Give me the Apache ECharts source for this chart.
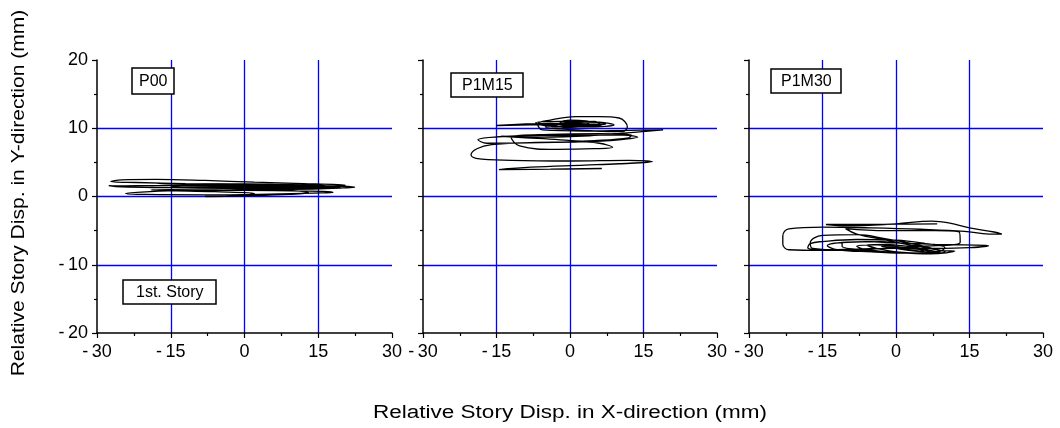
<!DOCTYPE html>
<html>
<head>
<meta charset="utf-8">
<script src="https://cdn.jsdelivr.net/npm/echarts@6/dist/echarts.min.js"></script>
<style>
  html, body { margin: 0; padding: 0; background: #fff; }
  #chart { width: 1060px; height: 428px; }
</style>
</head>
<body>
<div id="chart"></div>
<script>
// Axis ranges and tick spacing (mm)
const xRange = [-30, 30];
const yRange = [-20, 20];
const xStep = 15;
const yStep = 10;

// Panel captions
const panelNames = ['P00', 'P1M15', 'P1M30'];
const storyLabel = '1st. Story';
const xTitle = 'Relative Story Disp. in X-direction (mm)';
const yTitle = 'Relative Story Disp. in Y-direction (mm)';

// Orbit of relative story displacement [x, y] in mm, case P00
const orbitP00 = [
  [-3, 0.9], [5, 1.0], [14, 1.1], [20, 1.25], [22.4, 1.35], [20, 1.5], [12, 1.6], [0, 1.75],
  [-12, 1.9], [-22, 2.05], [-27.2, 2.2], [-25, 2.45], [-18, 2.5], [-8, 2.35], [2, 2.1], [12, 1.9],
  [19, 1.75], [20.5, 1.65], [17, 1.55], [6, 1.5], [-6, 1.55], [-18, 1.6], [-26, 1.55], [-27.6, 1.6],
  [-25, 1.4], [-15, 1.3], [-4, 1.2], [8, 1.15], [17, 1.2], [19.5, 1.3], [16, 1.45], [5, 1.55],
  [-8, 1.7], [-16, 1.85], [-18, 1.95], [-14, 1.9], [-3, 1.8], [8, 1.6], [16, 1.45], [17.5, 1.3],
  [12, 1.15], [0, 1.0], [-14, 0.85], [-21, 0.65], [-24.2, 0.45], [-20, 0.3], [-8, 0.25], [5, 0.35],
  [14, 0.5], [18, 0.6], [16, 0.75], [6, 0.85], [-6, 0.95], [-15, 1.0], [-19, 0.95], [-16, 0.85],
  [-6, 0.7], [2, 0.45], [-3, 0.05], [-8, 0.0], [0, 0.1], [9, 0.3], [13, 0.55], [11, 0.8],
  [2, 1.05], [-8, 1.3], [-15, 1.5], [-13, 1.65], [-4, 1.7], [6, 1.65], [14, 1.55], [18, 1.45],
  [16, 1.35], [7, 1.3], [-3, 1.35], [-11, 1.5], [-12, 1.7], [-5, 1.85], [5, 1.8], [13, 1.7], [17, 1.55],
  [14, 1.4], [4, 1.4], [-6, 1.5], [-10, 1.65], [-2, 1.6], [9, 1.45], [15, 1.35]
];

// Orbit of relative story displacement [x, y] in mm, case P1M15
const orbitP1M15 = [
  [6.5, 4.1], [-4, 4.0], [-14.5, 3.95], [-8, 4.3], [3, 4.6], [10, 4.8], [16.8, 5.1], [12, 5.3],
  [0, 5.2], [-12, 5.3], [-19.2, 5.6], [-20.2, 6.1], [-19, 7.0], [-16, 7.6], [-8, 7.9], [2, 8.0],
  [10, 8.3], [13.8, 8.7], [11, 9.0], [0, 9.0], [-10, 8.9], [-18.8, 8.3], [-17, 7.8], [-6, 7.9],
  [5, 8.2], [12, 8.6], [12.5, 9.0], [6, 9.2], [-4, 9.1], [-12, 8.6], [-10.3, 7.4], [-3, 6.9],
  [5, 7.0], [8.7, 7.2], [6, 7.8], [-2, 8.3], [-9, 8.6], [-14, 8.8], [-6, 8.7], [4, 8.9],
  [11, 9.3], [19, 9.75], [12, 9.7], [3, 9.6], [-5.6, 9.75], [-6.6, 10.6], [-4, 11.2], [1.2, 11.7],
  [6, 11.7], [10, 11.5], [11.7, 10.2], [10.7, 9.5], [5, 9.6], [-2, 9.9], [-5, 10.2], [-2, 10.6],
  [3, 10.9], [7, 10.7], [5, 10.3], [0, 10.4], [-4, 10.7], [-15, 10.4], [-8, 10.5], [0, 10.6],
  [7.3, 10.6], [3, 10.3], [-1, 10.1], [-3, 10.5], [1, 10.9], [5, 11.0], [6, 10.7], [2, 10.5],
  [-2, 10.8], [0, 11.2], [4, 10.9], [2, 10.4], [-4, 10.3], [-7, 10.8], [-2, 11.0], [6, 10.9],
  [9, 10.5], [4, 10.2], [-3, 10.2], [-5, 10.6], [0, 10.7], [5, 10.6]
];

// Orbit of relative story displacement [x, y] in mm, case P1M30
const orbitP1M30 = [
  [8.4, -4.0], [0, -4.05], [-8, -4.1], [-14.3, -4.1], [-10, -4.3], [0, -4.0], [7.3, -3.6], [11, -3.9],
  [15, -4.6], [20, -5.2], [21.6, -5.5], [19, -5.5], [14, -5.1], [5, -4.8], [-5, -4.6], [-15, -4.5],
  [-21.9, -4.75], [-23.1, -5.8], [-23.1, -6.96], [-21.9, -7.8], [-15, -7.9], [-5, -7.7], [5, -7.3],
  [13.1, -6.7], [12.9, -5.2], [8, -5.0], [-2, -5.0], [-10.3, -4.7], [-8, -5.5], [-2, -6.4], [3, -7.2],
  [6, -8.2], [2, -8.3], [-6, -7.9], [-11, -7.3], [-11, -6.8], [-6, -6.6], [0, -6.8], [8, -7.0],
  [14, -7.1], [18.9, -7.2], [15, -7.5], [8, -7.6], [0, -7.6], [-8, -7.7], [-15, -7.8], [-18, -7.5],
  [-17.5, -6.9], [-15, -6.6], [-8, -6.3], [0, -6.4], [6, -6.9], [10, -7.5], [9, -8.0], [4, -8.3],
  [-2, -8.2], [-10, -7.9], [-17, -7.6], [-17.5, -6.8], [-15, -5.7], [-8, -5.6], [-2, -6.2], [4, -7.0],
  [8, -7.7], [10, -8.1], [6, -8.3], [0, -8.1], [-4, -7.6], [-6, -7.1], [-2, -7.0], [3, -7.4],
  [7, -7.9], [9, -8.2], [4, -8.0], [-1, -7.5], [-3, -7.3], [1, -7.6], [6, -8.1], [8, -8.2],
  [3, -8.3], [-5, -8.1], [-12, -7.8], [-14, -7.2], [-10, -6.7], [-3, -6.6], [4, -7.2], [9, -7.9],
  [12, -8.0], [7, -8.4], [0, -8.2], [-6, -7.8], [-8, -7.3], [-4, -7.1], [2, -7.5], [7, -8.0]
];

const orbits = [orbitP00, orbitP1M15, orbitP1M30];

const FONT = "'Liberation Sans', Arial, sans-serif";
const gridLeft = [97, 423, 749];
const gridWidth = [295, 294, 294];
const gridTop = 60;
const gridHeight = 273;

function tickText(v) {
  return v < 0 ? '-\u2009' + Math.abs(v) : String(v);
}

const gridLine = {
  show: true,
  showMinLine: false,
  showMaxLine: false,
  lineStyle: { color: '#0000ff', width: 1.3 }
};

const grids = [], xAxes = [], yAxes = [], series = [];
orbits.forEach((orbit, i) => {
  grids.push({ left: gridLeft[i], top: gridTop, width: gridWidth[i], height: gridHeight });
  xAxes.push({
    type: 'value', gridIndex: i, min: xRange[0], max: xRange[1], interval: xStep,
    axisLine: { show: true, onZero: false, lineStyle: { color: '#000', width: 1.5 } },
    axisTick: { show: true, length: 5, lineStyle: { color: '#000', width: 1.2 } },
    minorTick: { show: true, splitNumber: 2, length: 3, lineStyle: { color: '#000', width: 1.2 } },
    axisLabel: {
      show: true, showMinLabel: true, showMaxLabel: true, margin: 10,
      color: '#000', fontSize: 18, fontFamily: FONT, formatter: tickText
    },
    splitLine: gridLine
  });
  yAxes.push({
    type: 'value', gridIndex: i, min: yRange[0], max: yRange[1], interval: yStep,
    axisLine: { show: true, onZero: false, lineStyle: { color: '#000', width: 1.5 } },
    axisTick: { show: true, length: 5, lineStyle: { color: '#000', width: 1.2 } },
    minorTick: { show: true, splitNumber: 2, length: 3, lineStyle: { color: '#000', width: 1.2 } },
    axisLabel: {
      show: i === 0, showMinLabel: true, showMaxLabel: true, margin: 9,
      color: '#000', fontSize: 18, fontFamily: FONT, formatter: tickText
    },
    splitLine: gridLine
  });
  series.push({
    type: 'line', xAxisIndex: i, yAxisIndex: i, data: orbit,
    showSymbol: false, smooth: 0.4, animation: false, silent: true,
    lineStyle: { color: '#000', width: 1.3 }
  });
});

// Boxed captions inside each panel
const boxStyle = {
  borderColor: '#000', borderWidth: 1.5, backgroundColor: '#fff'
};
const captionFont = { color: '#000', fontSize: 16, fontWeight: 'normal', fontFamily: FONT, lineHeight: 17 };
const titles = [
  Object.assign({ text: panelNames[0], left: 132, top: 68, padding: [5, 7, 4, 7], textStyle: captionFont }, boxStyle),
  Object.assign({ text: storyLabel, left: 123, top: 280, padding: [4, 13, 3, 13], textStyle: captionFont }, boxStyle),
  Object.assign({ text: panelNames[1], left: 451, top: 73, padding: [4, 11, 3, 11], textStyle: captionFont }, boxStyle),
  Object.assign({ text: panelNames[2], left: 771, top: 69, padding: [4, 10, 3, 10], textStyle: captionFont }, boxStyle)
];

const chart = echarts.init(document.getElementById('chart'), null, { renderer: 'canvas' });
chart.setOption({
  animation: false,
  backgroundColor: '#fff',
  title: titles,
  grid: grids,
  xAxis: xAxes,
  yAxis: yAxes,
  series: series,
  graphic: [
    {
      type: 'text', x: 570, y: 413, scaleX: 1.25,
      style: { text: xTitle, fill: '#000', font: '18px ' + FONT, align: 'center', verticalAlign: 'middle' }
    },
    {
      type: 'text', x: 19, y: 193, rotation: Math.PI / 2, scaleX: 1.17,
      style: { text: yTitle, fill: '#000', font: '18px ' + FONT, align: 'center', verticalAlign: 'middle' }
    }
  ]
});
</script>
</body>
</html>
